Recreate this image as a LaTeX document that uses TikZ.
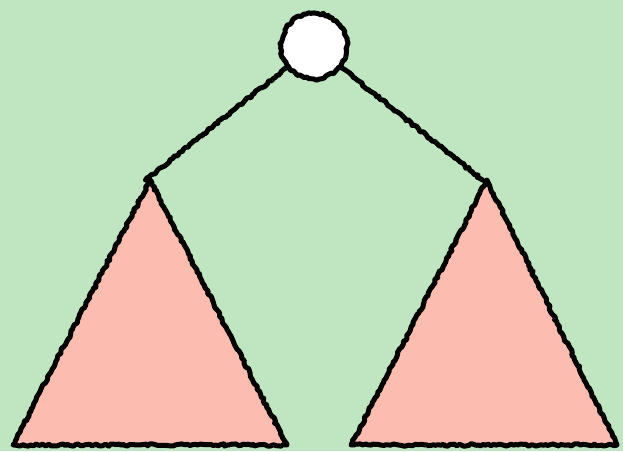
\documentclass[tikz,border=0pt]{standalone}
\usepackage{tikz}
\usetikzlibrary{decorations.pathmorphing}

\definecolor{bggreen}{HTML}{BFE6C0}
\definecolor{subtree}{HTML}{FDBCB0}

\tikzset{
    rough/.style={draw=black, line width=5pt, line join=round, line cap=round,
        decorate, decoration={random steps, segment length=2.5pt, amplitude=1.2pt}},
    subtri/.style={rough, fill=subtree}
}

\begin{document}
\begin{tikzpicture}[
    x=1pt, y=1pt,
    level distance=134pt,
    sibling distance=337pt,
    edge from parent/.style={rough, draw}
]
\pgfmathsetseed{42}
\fill[bggreen] (0,0) rectangle (623,451);
\useasboundingbox (0,0) rectangle (623,451);

% subtrees
\draw[subtri] (150,271) -- (13,6) -- (287,6) -- cycle;
\draw[subtri] (487,271) -- (351,6) -- (617,6) -- cycle;

\node[circle, rough, fill=white, minimum size=66pt, inner sep=0pt] (root) at (314,405) {}
    child {coordinate (left)}
    child {coordinate (right)};

\end{tikzpicture}
\end{document}
